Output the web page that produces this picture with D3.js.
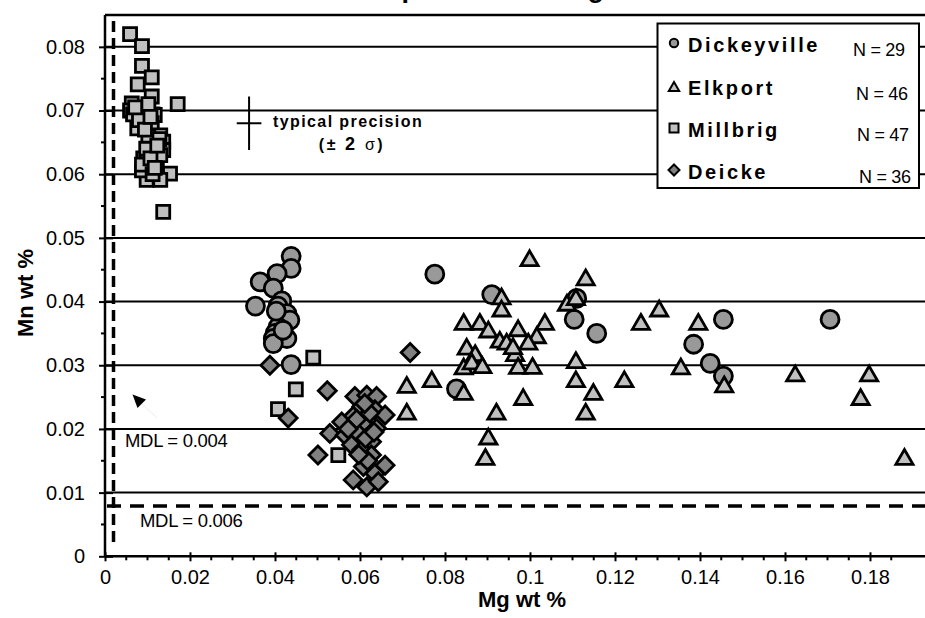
<!DOCTYPE html>
<html><head><meta charset="utf-8">
<script src="https://cdn.jsdelivr.net/npm/d3@7"></script>
<style>
html,body{margin:0;padding:0;background:#fff;}
svg{display:block;font-family:"Liberation Sans",Arial,Helvetica,sans-serif;}
</style></head>
<body>
<svg id="chart" width="925" height="618"></svg>
<script>
// ---------- data ----------
const title = "Apatite Mn vs Mg";
const xLabel = "Mg wt %";
const yLabel = "Mn wt %";
const xTicks = [0, 0.02, 0.04, 0.06, 0.08, 0.1, 0.12, 0.14, 0.16, 0.18];
const yTicks = [0, 0.01, 0.02, 0.03, 0.04, 0.05, 0.06, 0.07, 0.08];
const seriesNames = ["Dickeyville", "Elkport", "Millbrig", "Deicke"];
const seriesN = [29, 46, 47, 36];

const dickeyvilleMg = [0.0438,0.0438,0.0405,0.0365,0.0396,0.0354,0.0416,0.0407,0.0428,0.0435,0.0407,0.0400,0.0428,0.0396,0.0396,0.0438,0.0403,0.0419,
  0.0776,0.0910,0.0827,0.1104,0.1157,0.1110,0.1455,0.1385,0.1424,0.1455,0.1706];
const dickeyvilleMn = [0.0471,0.0452,0.0444,0.0431,0.0421,0.0393,0.0401,0.0393,0.0381,0.0371,0.0360,0.0350,0.0342,0.0342,0.0334,0.0301,0.0385,0.0355,
  0.0443,0.0411,0.0263,0.0372,0.0350,0.0405,0.0372,0.0333,0.0303,0.0283,0.0372];

const elkportMg = [0.0999,0.1131,0.0933,0.0933,0.1087,0.1108,0.0844,0.0882,0.0902,0.0972,0.1035,0.1016,0.0929,0.0945,0.0996,0.0851,0.0871,0.0965,
  0.0844,0.0863,0.0972,0.1006,0.1108,0.0710,0.0769,0.0844,0.1108,0.1149,0.0984,0.0710,0.0921,0.1131,0.0902,0.0895,
  0.1304,0.1261,0.1396,0.1222,0.1355,0.1457,0.1624,0.1798,0.1778,0.1881,0.0888,0.0960];
const elkportMn = [0.0468,0.0438,0.0408,0.0389,0.0398,0.0407,0.0368,0.0368,0.0356,0.0358,0.0368,0.0347,0.0340,0.0337,0.0337,0.0329,0.0319,0.0319,
  0.0298,0.0306,0.0299,0.0299,0.0308,0.0269,0.0278,0.0258,0.0278,0.0258,0.0250,0.0227,0.0227,0.0227,0.0188,0.0156,
  0.0389,0.0368,0.0368,0.0278,0.0298,0.0270,0.0287,0.0287,0.0250,0.0156,0.0300,0.0330];

const millbrigMg = [0.0059,0.0087,0.0087,0.0110,0.0077,0.0110,0.0171,0.0063,0.0059,0.0066,0.0090,0.0112,0.0117,0.0076,0.0110,0.0130,0.0137,0.0110,0.0137,
  0.0090,0.0098,0.0122,0.0153,0.0098,0.0130,0.0137,0.0087,0.0130,0.0490,0.0449,0.0407,0.0549,
  0.0082,0.0102,0.0097,0.0087,0.0107,0.0128,0.0090,0.0102,0.0080,0.0112,0.0071,0.0123,0.0094,0.0107,0.0117];
const millbrigMn = [0.0820,0.0801,0.0770,0.0752,0.0741,0.0722,0.0710,0.0711,0.0700,0.0694,0.0700,0.0694,0.0693,0.0672,0.0680,0.0661,0.0651,0.0651,0.0638,
  0.0625,0.0622,0.0617,0.0601,0.0591,0.0591,0.0541,0.0606,0.0630,0.0312,0.0262,0.0231,0.0159,
  0.0690,0.0660,0.0640,0.0615,0.0625,0.0655,0.0700,0.0710,0.0685,0.0600,0.0705,0.0645,0.0670,0.0690,0.0610];

const deickeMg = [0.0388,0.0523,0.0431,0.0501,0.0718,0.0588,0.0616,0.0639,0.0604,0.0635,0.0659,0.0584,0.0557,0.0608,0.0639,0.0529,0.0565,0.0596,
  0.0627,0.0580,0.0604,0.0627,0.0608,0.0659,0.0635,0.0584,0.0616,0.0643,0.0592,0.0613,0.0623,0.0572,0.0618,0.0633,0.0597,0.0611];
const deickeMn = [0.0300,0.0260,0.0217,0.0159,0.0320,0.0251,0.0253,0.0251,0.0235,0.0230,0.0222,0.0220,0.0211,0.0209,0.0201,0.0193,0.0190,0.0193,
  0.0180,0.0175,0.0167,0.0159,0.0141,0.0143,0.0130,0.0120,0.0109,0.0117,0.0215,0.0185,0.0225,0.0200,0.0150,0.0195,0.0160,0.0240];

const precision = {mg: 0.0339, mn: 0.0680, dMg: 0.0029, dMn: 0.0042};
const mdlMg = 0.0020;   // vertical dashed detection limit
const mdlMn = 0.0079;   // horizontal dashed detection limit
const mdlLabels = ["MDL = 0.004", "MDL = 0.006"];

// ---------- layout ----------
const svg = d3.select("#chart");
const L = 105, T = 15, B = 556.3, R = 925;
const x = d3.scaleLinear().domain([0, 0.18]).range([L, 870]);
const y = d3.scaleLinear().domain([0, 0.085]).range([B, T]);
const FONT = "'Liberation Sans',Arial,Helvetica,sans-serif";

// title (cut off at the top edge, as in the reference)
svg.append("text").attr("x", 493).attr("y", -3).attr("text-anchor", "middle")
  .attr("font-size", 27).attr("font-weight", "bold").text(title);

// gridlines
svg.append("g").selectAll("line").data(yTicks.filter(d => d > 0)).join("line")
  .attr("x1", L).attr("x2", R).attr("y1", d => y(d)).attr("y2", d => y(d))
  .attr("stroke", "#000").attr("stroke-width", 2);

// top border
svg.append("line").attr("x1", L).attr("x2", R).attr("y1", T).attr("y2", T)
  .attr("stroke", "#000").attr("stroke-width", 2.5);

// y axis
const gy = svg.append("g").attr("transform", `translate(${L},0)`)
  .call(d3.axisLeft(y).tickValues(yTicks).tickSize(6).tickPadding(14)
    .tickFormat(d => d === 0 ? "0" : d.toFixed(2)));
gy.select(".domain").attr("stroke-width", 2.5).attr("d", `M0,${T}V${B}`);
gy.selectAll(".tick line").attr("stroke-width", 2).attr("x2", -6).attr("x1", 8);
gy.selectAll("text").attr("font-size", 20).attr("font-family", FONT).attr("fill", "#000");
const yMinor = d3.range(0.005, 0.085, 0.01);
svg.append("g").selectAll("line").data(yMinor).join("line")
  .attr("x1", L - 4).attr("x2", L).attr("y1", d => y(d)).attr("y2", d => y(d))
  .attr("stroke", "#000").attr("stroke-width", 2);

// x axis
const gx = svg.append("g").attr("transform", `translate(0,${B})`)
  .call(d3.axisBottom(x).tickValues(xTicks).tickSize(5).tickPadding(9)
    .tickFormat(d => String(+d.toFixed(2))));
gx.select(".domain").attr("stroke-width", 2.5).attr("d", `M${L},0H${R}`);
gx.selectAll(".tick line").attr("stroke-width", 2).attr("y1", -4);
gx.selectAll("text").attr("font-size", 20).attr("font-family", FONT).attr("fill", "#000");
const xMinor = d3.range(0.005, 0.19, 0.005).filter(v => Math.abs(v / 0.02 - Math.round(v / 0.02)) > 1e-6);
svg.append("g").selectAll("line").data(xMinor).join("line")
  .attr("x1", d => x(d)).attr("x2", d => x(d)).attr("y1", B).attr("y2", B + 4)
  .attr("stroke", "#000").attr("stroke-width", 2);

// axis titles
svg.append("text").attr("x", 522).attr("y", 607).attr("text-anchor", "middle")
  .attr("font-size", 22).attr("font-weight", "bold").text(xLabel);
svg.append("text").attr("transform", "translate(33,293) rotate(-90)").attr("text-anchor", "middle")
  .attr("font-size", 22).attr("font-weight", "bold").text(yLabel);

// MDL dashed lines
svg.append("line").attr("x1", x(mdlMg)).attr("x2", x(mdlMg)).attr("y1", 21).attr("y2", 546)
  .attr("stroke", "#000").attr("stroke-width", 3.5).attr("stroke-dasharray", "11,6");
svg.append("line").attr("x1", 107).attr("x2", R).attr("y1", y(mdlMn)).attr("y2", y(mdlMn))
  .attr("stroke", "#000").attr("stroke-width", 3.5).attr("stroke-dasharray", "14,9");
svg.append("text").attr("x", 125).attr("y", 447).attr("font-size", 18.5).attr("letter-spacing", -0.3).text(mdlLabels[0]);
svg.append("text").attr("x", 140).attr("y", 527).attr("font-size", 18.5).attr("letter-spacing", -0.3).text(mdlLabels[1]);
// arrow
svg.append("line").attr("x1", 140).attr("y1", 402).attr("x2", 157).attr("y2", 418)
  .attr("stroke", "#ececec").attr("stroke-width", 1);
svg.append("path").attr("d", "M132.5,394.5 L146,399.5 L137.5,408 Z").attr("fill", "#000");

// typical precision
svg.append("line").attr("x1", x(precision.mg)).attr("x2", x(precision.mg))
  .attr("y1", y(precision.mn + precision.dMn)).attr("y2", y(precision.mn - precision.dMn))
  .attr("stroke", "#000").attr("stroke-width", 2);
svg.append("line").attr("x1", x(precision.mg - precision.dMg)).attr("x2", x(precision.mg + precision.dMg))
  .attr("y1", y(precision.mn)).attr("y2", y(precision.mn))
  .attr("stroke", "#000").attr("stroke-width", 2);
svg.append("text").attr("x", 273).attr("y", 127).attr("font-size", 16).attr("font-weight", "bold")
  .attr("letter-spacing", 1.4).text("typical precision");
const pt = svg.append("text").attr("x", 352).attr("y", 150).attr("text-anchor", "middle").attr("font-size", 16)
  .attr("letter-spacing", 2.5);
pt.append("tspan").attr("font-weight", "bold").text("(±  ");
pt.append("tspan").attr("font-weight", "bold").attr("font-size", 18).text("2 ");
pt.append("tspan").text(" σ");
pt.append("tspan").attr("font-weight", "bold").text(")");

// markers
const shapes = {
  circle: r => `M${-r},0A${r},${r} 0 1,0 ${r},0A${r},${r} 0 1,0 ${-r},0Z`,
  triangle: s => `M0,${-s * 0.45}L${s * 0.52},${s * 0.45}L${-s * 0.52},${s * 0.45}Z`,
  square: s => `M${-s / 2},${-s / 2}H${s / 2}V${s / 2}H${-s / 2}Z`,
  diamond: s => `M0,${-s}L${s},0L0,${s}L${-s},0Z`
};
const styles = [
  {shape: "circle", size: 9, lsize: 4.2, fill: "#999999"},
  {shape: "triangle", size: 16.5, lsize: 10, fill: "#c0c0c0"},
  {shape: "square", size: 13, lsize: 9, fill: "#c0c0c0"},
  {shape: "diamond", size: 9, lsize: 5.5, fill: "#808080"}
];
const seriesData = [
  d3.zip(dickeyvilleMg, dickeyvilleMn),
  d3.zip(elkportMg, elkportMn),
  d3.zip(millbrigMg, millbrigMn),
  d3.zip(deickeMg, deickeMn)
];
seriesData.forEach((pts, i) => {
  const st = styles[i];
  svg.append("g").selectAll("path").data(pts).join("path")
    .attr("d", shapes[st.shape](st.size))
    .attr("transform", d => `translate(${x(d[0])},${y(d[1])})`)
    .attr("fill", st.fill).attr("stroke", "#000").attr("stroke-width", 2.8)
    .attr("stroke-linejoin", "miter");
});

// legend
const lg = svg.append("g");
lg.append("rect").attr("x", 657.5).attr("y", 23.5).attr("width", 261.5).attr("height", 164.5)
  .attr("fill", "#fff").attr("stroke", "#000").attr("stroke-width", 2);
const legY = [43, 86.5, 128, 170];
const nX = [853, 856, 857, 859];
seriesNames.forEach((name, i) => {
  const st = styles[i];
  lg.append("path").attr("d", shapes[st.shape](st.lsize))
    .attr("transform", `translate(674,${legY[i]})`)
    .attr("fill", st.fill).attr("stroke", "#000").attr("stroke-width", 2);
  lg.append("text").attr("x", 688).attr("y", legY[i] + 8.5).attr("font-size", 20)
    .attr("font-weight", "bold").attr("letter-spacing", 2.6).text(name);
  lg.append("text").attr("x", nX[i]).attr("y", legY[i] + 13).attr("font-size", 18)
    .attr("letter-spacing", -0.3).text(`N = ${seriesN[i]}`);
});
</script>
</body></html>
